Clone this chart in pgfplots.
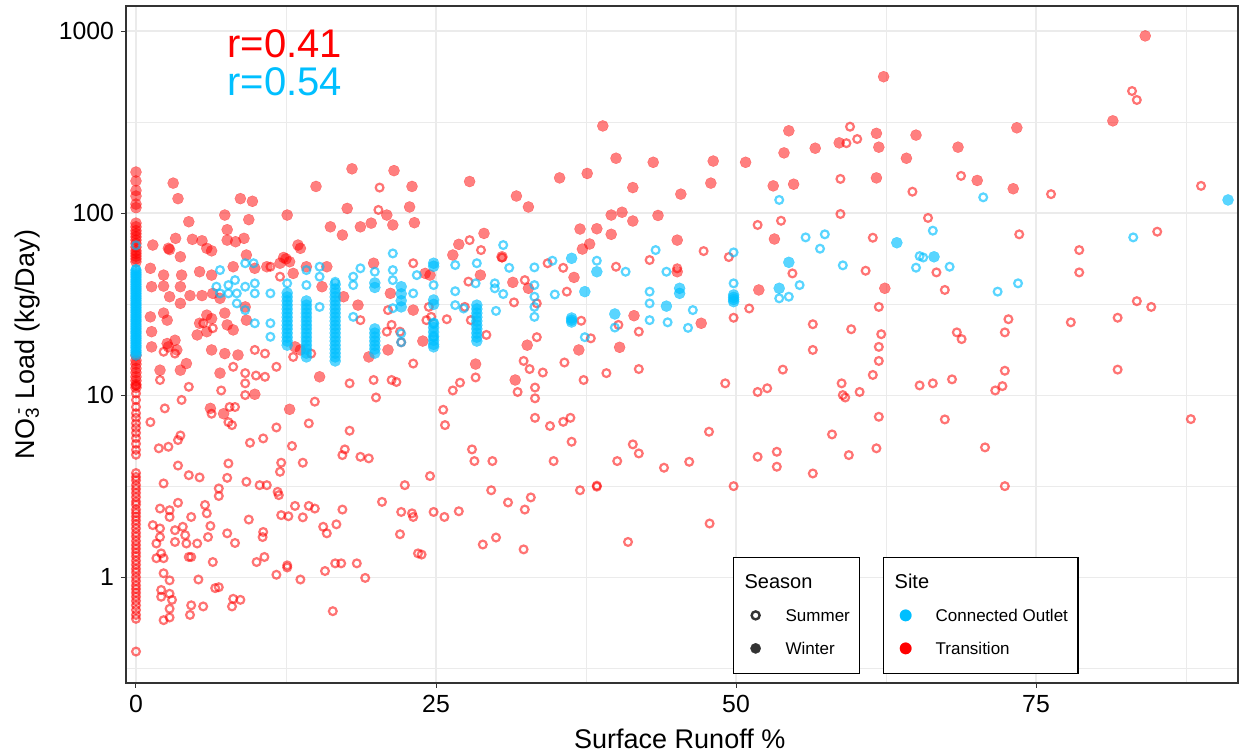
\documentclass[border=0pt]{standalone}
\usepackage{fontspec}
\setmainfont{Liberation Sans}
\usepackage{pgfplots}
\pgfplotsset{compat=1.18}
\definecolor{tred}{RGB}{255,0,0}
\definecolor{cblue}{RGB}{0,191,255}
\definecolor{gridgrey}{RGB}{235,235,235}
\definecolor{axisgrey}{RGB}{51,51,51}
\pgfplotsset{
  legcommon/.style={
    legend cell align=left,
    legend style={anchor=south west, draw=black, line width=0.6pt, fill=white,
      inner xsep=5pt, inner ysep=9.5pt, row sep=10.5pt,
      font=\fontsize{8.5}{10}\selectfont, nodes={inner sep=0pt, text height=6pt, text depth=0pt},
      /tikz/every odd column/.style={column sep=9pt}},
    legend image code/.code={\path[draw=none, fill=none] (0pt,-3pt) rectangle (12pt,3pt); \draw[##1] plot coordinates {(6pt,0pt)};},
  },
}
\begin{document}
\begin{tikzpicture}
\useasboundingbox (-63pt,-36pt) rectangle (556.5pt,341.5pt);
\begin{axis}[at={(0pt,0pt)}, anchor=south west,
  scale only axis, width=556pt, height=338.5pt,
  xmin=-0.833, xmax=91.83, ymin=0.262, ymax=1372,
  ymode=log,
  legcommon,
  legend style={at={(rel axis cs:0.5459,0.0133)}},
  xtick={0,25,50,75}, xticklabels={0,25,50,75},
  ytick={1,10,100,1000}, yticklabels={1,10,100,1000},
  minor xtick={12.5,37.5,62.5,87.5},
  minor ytick={0.3162,3.162,31.62,316.2},
  grid=both,
  major grid style={gridgrey, line width=0.55pt},
  minor grid style={gridgrey, line width=0.3pt},
  minor tick length=0pt,
  tick align=outside, major tick length=2.5pt,
  tick pos=left,
  tick style={axisgrey, line width=0.5pt},
  axis line style={axisgrey, line width=0.6pt},
  tick label style={font=\fontsize{12.4}{14}\selectfont, black},
  xlabel={Surface Runoff \%},
  xlabel style={at={(axis description cs:0.498,-0.082)}, anchor=center, font=\fontsize{13.5}{16}\selectfont},
  ylabel={NO\textsubscript{3}\llap{\textsuperscript{-}} Load (kg/Day)},
  ylabel style={at={(axis description cs:-0.0885,0.5)}, anchor=center, font=\fontsize{13.5}{16}\selectfont},
]
\addlegendimage{empty legend}
\addlegendentry{\makebox[0pt][l]{\hspace*{-21pt}\fontsize{10}{12}\selectfont Season}}
\addlegendimage{only marks, mark=o, mark size=2pt, line width=1.2pt, color=axisgrey}
\addlegendentry{Summer}
\addlegendimage{only marks, mark=*, mark size=2.6pt, line width=0.1pt, color=axisgrey}
\addlegendentry{Winter}

% Transition, Winter
\addplot[only marks, mark=*, mark size=2.8pt, line width=0.1pt, color=tred, opacity=0.5] table {
x y
0 168
0 150
0 133
0 124
0 112
0 107
0 88
0 84
0 80
0 77
0 74
0 71
0 68
0 65
0 62
0 60
0 58
0 56
0 54
0 16.5
0 15.5
0 14.8
0 14
0 13.3
0 12.6
0 12
0 11.4
0 11
3.1 146
3.5 120
8.7 120
9.7 116
7.4 97.5
4.4 89.6
9.4 92
12.6 97.5
15 140
18 175
21.5 171
23 140
17.6 106
22.8 108
20.9 97.5
19.6 88
18.7 84
16.2 84
17.2 75.7
21.4 86
23.2 88.5
7.6 81
3.3 72.6
4.7 71.7
5.5 70.4
5.9 64
6.3 62
7.6 71
8.3 69.6
9.0 72.6
1.4 66.7
2.7 64
2.8 63
3.7 57.5
9.2 58.8
13.5 66.7
13.7 64
12.3 57
12.5 56
12 53
12.8 54
13.1 46.6
10.9 50.7
8.1 50.7
9.9 49.7
1.2 49.7
2.3 45.6
3.8 45.6
5.3 47.6
6.3 45.6
1.3 39.4
2.3 39.7
2.8 34.7
3.7 39.4
4.5 35.2
5.5 35.2
6.4 36.2
7 34
3.7 31.9
1.2 26.9
2.3 28.2
2.6 25.8
5.9 27.5
6.3 26.3
5.3 24.8
7.4 28.2
9.2 25.8
9.1 30.5
7.6 24.3
8.1 22.8
1.3 22.3
2.6 19.2
3.25 20
5.1 21.4
5.9 22.3
1.3 18.4
2.7 18.4
3.4 17.7
6.3 17.7
7.4 16.9
8.5 16.6
2 13.7
3.7 13.7
4.2 14.9
7 13.2
13.25 18.4
13.7 17.7
15.3 12.6
18.5 31.2
17.3 34.7
19.8 53
19.4 16.2
21 17.7
21.2 36.2
23.1 29.3
15.9 50.7
14.2 50.7
15.5 39.4
6.2 8.45
7.3 7.9
9.9 10.1
12.8 8.35
38.9 301
40 200
43.1 190
37.6 165
35.3 156
27.8 149
41.4 138
45.4 127
31.7 124
32.7 108
39.6 97.5
40.5 101
43.5 97
41.4 90.4
37 81.7
38.4 82
39.6 76.4
29 77.3
45.1 71
26.9 67.3
26.4 58.8
37.8 67.6
37.2 63.4
30.5 57.5
28.7 45.6
24.5 45.6
24.1 46.6
31.4 41.6
32.7 38.6
36.5 44.3
41.5 27.3
45.1 47.6
32.6 18.8
40.3 18.3
23.9 19.8
28.3 14.8
31.6 12.1
36.9 17.7
62.3 561
54.4 283
58.6 243
61.7 274
65 268
61.9 230
68.5 230
56.6 227
54 214
48.1 193
50.8 190
64.2 200
61.7 156
47.9 146
53.1 141
54.8 144
53.2 72
51.9 37.8
62.4 38.6
47.1 24.8
84.1 940
81.4 321
73.4 294
70.1 151
73.1 136
};

% Transition, Summer
\addplot[only marks, mark=o, mark size=1.95pt, line width=1.1pt, color=tred, opacity=0.55] table {
x y
0 11.3
0 10.2
0 9.4
0 8.6
0 7.95
0 7.5
0 7.0
0 6.6
0 6.2
0 5.8
0 5.4
0 5.0
0 4.7
0 3.73
0 3.55
0 3.4
0 3.2
0 3.05
0 2.9
0 2.75
0 2.6
0 2.5
0 2.35
0 2.25
0 2.15
0 2.05
0 1.95
0 1.85
0 1.75
0 1.67
0 1.58
0 1.5
0 1.43
0 1.36
0 1.3
0 1.23
0 1.17
0 1.11
0 1.06
0 1.0
0 0.95
0 0.9
0 0.86
0 0.82
0 0.78
0 0.74
0 0.7
0 0.66
0 0.62
0 0.59
0 0.39
11.2 50.7
12 44.7
21 29.3
18.7 25.8
5.6 24.8
6.4 23.3
2.3 17.3
3.25 16.9
9.9 17.7
10.75 16.9
8.1 14.3
9.1 13.2
10 12.8
10.75 12.6
11.7 14.3
4.4 11.1
2 12.1
7.1 10.6
9.1 10
13.1 16.2
14.6 16.9
17.8 11.6
19.8 12.1
21.3 12.1
21.7 11.8
22 22.3
22.1 19.5
23.1 14.9
23.1 53
21.3 24.3
20.9 22.3
20.3 138
20.2 104
3.8 9.4
2.4 8.45
1.2 7.1
1.9 5.1
2.7 5.2
3.5 5.66
3.7 6.0
3.5 4.1
4.4 3.63
5.3 3.53
2.3 3.27
2 2.38
2.8 2.33
2.8 2.14
3.5 2.56
1.4 1.93
2 1.85
1.7 1.53
2 1.66
2.1 1.35
2.3 1.27
1.7 1.27
2.3 1.05
2.8 0.96
2.1 0.85
2.1 0.78
2.8 0.81
3 0.75
2.8 0.67
2.8 0.6
2.3 0.58
3.25 1.81
3.9 1.89
4.1 1.7
4.2 1.53
3.25 1.56
4.4 1.29
4.6 1.29
5.1 1.53
4.6 2.14
5.9 2.24
5.75 2.49
6.2 1.91
6 1.66
5.2 0.97
4.6 0.70
4.5 0.62
5.6 0.69
6.4 1.21
6.6 0.87
6.9 0.88
6.9 3.07
6.9 2.79
6.3 7.9
7.8 8.6
8.25 8.6
7.7 7.1
8 6.84
9.1 11.6
9.5 5.47
10.6 5.78
11.7 6.64
13 5.25
14.4 6.99
14.9 9.2
17.8 6.37
20 9.7
17.4 5.03
17.2 4.68
18.7 4.58
19.4 4.49
22.4 3.2
20.5 2.59
22.1 2.28
23 2.24
23.1 2.14
22 1.72
23.5 1.35
12.1 4.25
12 3.79
13.9 4.25
7.7 4.21
7.6 3.51
9.2 3.34
10.3 3.2
10.9 3.2
11.8 2.94
11.9 2.82
12.1 2.19
12.7 2.16
13.9 2.13
13.25 2.46
14.4 2.46
14.9 2.38
15.6 1.89
15.9 1.74
16.7 1.95
17.2 2.35
9.4 2.07
10.6 1.77
10.55 1.66
7.6 1.74
8.25 1.54
10.05 1.21
10.7 1.29
12.6 1.16
12.6 1.13
11.7 1.03
13.7 0.97
15.75 1.08
16.6 1.19
17.1 1.19
18.4 1.19
19.1 0.99
16.4 0.65
8.1 0.76
8.7 0.75
8 0.69
27.8 71
28.75 62.6
30.5 57
42.8 55.2
40 50.7
34.3 53
35.6 50
27.7 42
32.4 42.8
35.9 37
24.4 30.5
24.2 25.8
24.6 26.9
27.4 30.5
27.9 25.8
29.2 21.4
31.5 32.3
33.4 31.9
33.4 20.8
37.1 25.6
37.9 20.5
40.2 24.3
41.9 22.3
45.1 49.7
25.9 26.1
32.3 15.4
32.8 13.9
33.9 13.3
35.7 15.1
37.3 12.1
39.2 13.2
41.9 13.9
28.3 12.5
27 11.7
26.4 10.6
31.8 10.4
33.25 11
33.25 9.6
25.6 8.3
25.75 6.84
33.25 7.5
34.5 6.76
35.6 7.13
36.2 7.5
36.3 5.54
28 5.03
28.2 4.34
29.7 4.34
34.8 4.34
24.5 3.59
41.4 5.36
41.9 4.78
40.1 4.34
44 3.99
46.1 4.3
29.6 3.0
31 2.57
32.9 2.74
32.4 2.35
37 3.0
38.4 3.18
38.4 3.14
24.8 2.28
25.7 2.14
26.9 2.3
28.9 1.51
30 1.65
32.3 1.42
41 1.56
23.8 1.33
59.5 298
60.1 255
59.2 242
68.75 160
58.7 154
64.7 131
58.7 98.8
66 94
51.8 86
53.75 90.7
61.4 73.2
47.3 61.8
49.4 57.3
66.7 47.2
54.7 46.6
60.8 48.2
67.4 37.8
49.8 26.6
51.1 29.9
61.9 30.5
56.4 24.5
59.6 23
62.1 21.6
68.4 22.1
68.8 20.3
61.9 18.4
56.4 17.7
61.9 15.4
53.9 13.8
61.4 12.9
49.1 11.6
51.8 10.4
52.6 10.9
58.8 11.6
58.9 10
59.1 9.7
60.3 10.4
65.3 11.3
66.4 11.6
68 12.2
61.9 7.6
67.4 7.35
47.75 6.29
58 6.08
51.8 4.58
53.4 4.88
53.4 4.04
59.4 4.68
61.7 5.1
56.4 3.71
49.8 3.16
47.8 1.97
83 468
83.4 418
76.25 127
88.75 141
73.6 76.4
85.1 79
78.6 62.6
78.6 47.2
83.4 32.8
84.6 30.5
72.7 26.1
72.4 22.1
77.9 25.1
81.8 26.6
72.4 13.6
72.2 11.2
71.6 10.6
81.8 13.8
87.9 7.38
70.75 5.16
72.4 3.16
};

% Connected Outlet, Summer
\addplot[only marks, mark=o, mark size=1.95pt, line width=1.1pt, color=cblue, opacity=0.65] table {
x y
0 66.5
0 49.3
7 48.6
6.7 39.4
7 36.2
7.7 40.2
7.7 36.2
8.25 42.8
8.4 36.2
8.4 31.9
9.1 53
9.8 53
9.1 39.4
9.1 29.3
9.9 41.1
9.9 36.2
9.9 24.8
11.2 36.2
11.2 24.8
11.2 20.9
12.6 41.1
14.2 48.6
14.2 40.2
15.3 50.7
15.3 44.7
15.3 30.5
18.1 44.7
18.1 40.2
18.7 49.7
18.1 26.9
19.9 47.6
21.4 60
21.4 48.6
21.4 42.8
21.4 30
22.1 21.8
22.1 19.5
23.4 45.6
23.1 36.2
16.6 41.9
30.6 66.7
43.3 62.6
38.4 54.7
40.8 47.6
33.2 50.3
34.7 54.7
31.1 50
26.6 51.8
28.4 53
28.3 41.1
33.2 40.2
34.9 35.7
29.9 41.1
29.9 38.6
30.6 35.9
24.8 40.2
26.6 37.2
26.6 31.2
27.3 29.9
30 29
33.2 34.7
33.2 30.5
33.2 26.9
37.4 20.8
39.9 23.5
42.8 37
42.8 31.9
42.8 25.8
44.3 25.1
44.2 47.6
46 23.4
46.4 29.3
24.8 24.8
24.8 20.9
53.6 118
66.4 80
55.8 73.5
57.4 76.4
57 63.7
49.8 60.8
65.3 58
65.6 57
65 50.1
67.8 50.7
58.9 51.6
55.3 40.2
53.6 34
54.4 34.7
49.8 41.1
70.6 122
83.1 73.5
71.8 37
73.5 41.1
};

% Connected Outlet, Winter
\addplot[only marks, mark=*, mark size=2.8pt, line width=0.1pt, color=cblue, opacity=0.65] table {
x y
0 48.5
0 47
0 45.7
0 44.4
0 43
0 41.8
0 40.6
0 39.4
0 38.3
0 37.2
0 36.1
0 35
0 34
0 33
0 32
0 31.1
0 30.2
0 29.3
0 28.5
0 27.6
0 26.8
0 26
0 25.3
0 24.5
0 23.8
0 23.1
0 22.4
0 21.8
0 21.1
0 20.5
0 19.9
0 19.3
0 18.7
0 18.2
0 17.6
0 17.1
0 16.6
12.6 36.4
12.6 34.6
12.6 32.9
12.6 31.2
12.6 29.7
12.6 28.2
12.6 26.8
12.6 25.5
12.6 24.2
12.6 23.1
12.6 21.9
12.6 20.8
12.6 19.8
12.6 18.8
14.2 32.9
14.2 31.2
14.2 29.7
14.2 28.2
14.2 26.8
14.2 25.5
14.2 24.2
14.2 23.1
14.2 21.9
14.2 20.8
14.2 19.8
14.2 18.8
14.2 17.9
14.2 17.0
14.2 16.2
16.6 40.6
16.6 38.3
16.6 36.4
16.6 34.6
16.6 32.9
16.6 31.2
16.6 29.7
16.6 28.2
16.6 26.8
16.6 25.5
16.6 24.2
16.6 23.1
16.6 21.9
16.6 20.8
16.6 19.8
16.6 18.8
16.6 17.9
16.6 17.0
16.6 16.2
16.6 15.4
19.9 41.3
19.9 39
19.9 23.1
19.9 21.9
19.9 20.8
19.9 19.8
19.9 18.8
19.9 17.9
19.9 17.0
22.1 39.4
22.1 36
22.1 33
22.1 30.5
24.8 53
24.8 51
24.8 33.3
24.8 31.5
24.8 24.8
24.8 23.5
24.8 22.2
24.8 21
24.8 20
24.8 19
24.8 18.4
28.4 31.2
28.4 29.7
28.4 28.2
28.4 26.8
28.4 25.5
28.4 24.2
28.4 23.1
28.4 21.9
28.4 20.8
28.4 19.8
36.3 56.4
36.3 26.5
36.3 25.8
36.3 25.2
37.4 37
38.4 47.6
39.9 27.9
44.2 30.8
45.3 38.6
45.3 36.2
49.8 35.5
49.8 34.4
49.8 33.5
49.8 32.6
63.4 68.7
66.5 57.5
54.4 53.6
53.6 38.6
91 118
};

\node[text=tred, font=\fontsize{20}{24}\selectfont] at (axis cs:12.4,853) {r=0.41};
\node[text=cblue, font=\fontsize{20}{24}\selectfont] at (axis cs:12.4,528) {r=0.54};
\end{axis}

\begin{axis}[at={(0pt,0pt)}, anchor=south west,
  scale only axis, width=556pt, height=338.5pt,
  xmin=0, xmax=1, ymin=0, ymax=1,
  hide axis,
  legcommon,
  legend style={at={(rel axis cs:0.6808,0.0133)}},
]
\addlegendimage{empty legend}
\addlegendentry{\makebox[0pt][l]{\hspace*{-21pt}\fontsize{10}{12}\selectfont Site}}
\addlegendimage{only marks, mark=*, mark size=2.9pt, line width=0.1pt, color=cblue}
\addlegendentry{Connected Outlet}
\addlegendimage{only marks, mark=*, mark size=2.9pt, line width=0.1pt, color=tred}
\addlegendentry{Transition}
\end{axis}
\end{tikzpicture}
\end{document}
